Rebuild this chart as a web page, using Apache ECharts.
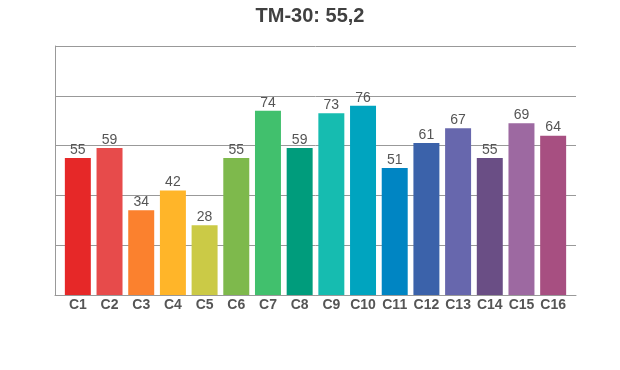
<!DOCTYPE html>
<html><head><meta charset="utf-8">
<script src="https://cdn.jsdelivr.net/npm/echarts@6/dist/echarts.min.js"></script>
<style>html,body{margin:0;padding:0;background:#fff}#c{width:620px;height:370px}</style>
</head><body><div id="c"></div>
<script>
const categories = ["C1","C2","C3","C4","C5","C6","C7","C8","C9","C10","C11","C12","C13","C14","C15","C16"];
const values = [55,59,34,42,28,55,74,59,73,76,51,61,67,55,69,64];
const colors = ["#e62828","#e74b4b","#fb812e","#ffb529","#cbca46","#7eb94c","#41c06d","#009c7c","#16bcb0","#00a4bf","#0085c3","#3b62aa","#6767ad","#6a4e85","#9d69a1","#a74f81"];
const titleText = "TM-30: 55,2";
const font = 'Liberation Sans, Arial, sans-serif';
const chart = echarts.init(document.getElementById('c'));
chart.setOption({
  animation:false,
  title:{text:titleText,left:'center',top:1,textStyle:{fontFamily:font,fontSize:20,fontWeight:'bold',color:'#404040'}},
  grid:[{left:55,right:44,top:46,bottom:75},{left:62,right:51,top:46,bottom:75}],
  xAxis:[
    {gridIndex:0,type:'value',min:0,max:1,show:true,axisLine:{show:true,lineStyle:{color:'#999'}},axisTick:{show:false},axisLabel:{show:false},splitLine:{show:false}},
    {gridIndex:1,type:'category',data:categories,
    axisLine:{show:false},axisTick:{show:false},
    axisLabel:{interval:0,margin:3,color:'#555',fontFamily:font,fontSize:14,fontWeight:'bold'}}],
  yAxis:[
    {gridIndex:0,type:'value',min:0,max:100,interval:20,
    axisLine:{show:true,lineStyle:{color:'#999'}},axisTick:{show:false},axisLabel:{show:false},
    splitLine:{lineStyle:{color:'#999',width:1}}},
    {gridIndex:1,type:'value',min:0,max:100,interval:20,show:false}],
  series:[{type:'bar',xAxisIndex:1,yAxisIndex:1,barCategoryGap:'18%',
    data:values.map((v,i)=>({value:v,itemStyle:{color:colors[i]}})),
    label:{show:true,position:'top',distance:1,color:'#555',fontFamily:font,fontSize:14}}]
});
</script></body></html>
